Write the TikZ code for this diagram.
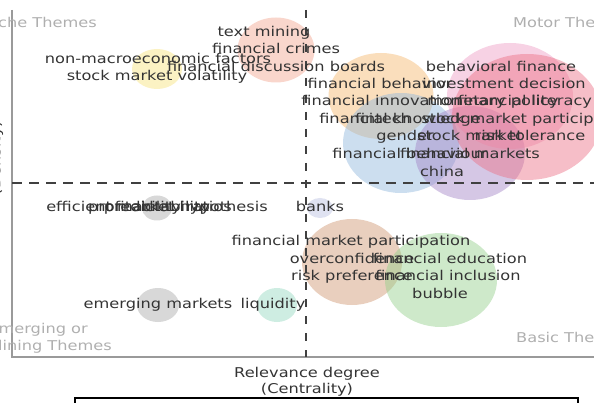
\documentclass[tikz,border=0pt]{standalone}
\usepackage{fontspec}
\setmainfont{DejaVu Sans}[FakeStretch=1.2]
\usetikzlibrary{shapes.geometric}

\definecolor{txt}{HTML}{333333}
\definecolor{quadgray}{HTML}{AFAFAF}
\definecolor{axgray}{HTML}{9A9A9A}
\definecolor{cyellow}{HTML}{F7E27A}
\definecolor{csalmon}{HTML}{F2A48E}
\definecolor{corange}{HTML}{F5B66A}
\definecolor{cblue}{HTML}{8FB6DC}
\definecolor{cpurple}{HTML}{A283C6}
\definecolor{cpink}{HTML}{EE9BC4}
\definecolor{cred}{HTML}{EC6F84}
\definecolor{cgray}{HTML}{A8A8A8}
\definecolor{cbanks}{HTML}{B8BEE0}
\definecolor{cbrown}{HTML}{CF946F}
\definecolor{cgreen}{HTML}{93CF8A}
\definecolor{cteal}{HTML}{93D6BE}

\tikzset{
  bub/.style={ellipse, fill=#1, fill opacity=.45, inner sep=0pt},
  lab/.style={text=txt, font=\fontsize{13.5}{16}\selectfont, inner sep=0pt,
    text height=10pt, text depth=3pt},
  quad/.style={lab, text=quadgray},
  split/.style={draw=black!75, line width=1.6pt}
}

\begin{document}
\begin{tikzpicture}[x=1pt,y=-1pt]
\useasboundingbox (0,0) rectangle (594,403);
\clip (0,0) rectangle (594,403);

% bubbles
\node [bub=cyellow, minimum width=50, minimum height=40] (yel) at (157,69) {};
\node [bub=csalmon, minimum width=77, minimum height=65] (sal) at (276,50) {};
\node [bub=corange, minimum width=105, minimum height=86] (ora) at (381,96) {};
\node [bub=cblue, minimum width=116, minimum height=100] (blu) at (401,143) {};
\node [bub=cpurple, minimum width=110, minimum height=94] (pur) at (470,153) {};
\node [bub=cpink, minimum width=126, minimum height=106] (pnk) at (510,96) {};
\node [bub=cred, minimum width=150, minimum height=126] (red) at (527,117) {};
\node [bub=cgray, minimum width=30, minimum height=25] (emh) at (157,208) {};
\node [bub=cbanks, minimum width=26, minimum height=20] (bnk) at (320,208) {};
\node [bub=cbrown, minimum width=100, minimum height=86] (brn) at (352,262) {};
\node [bub=cgreen, minimum width=112, minimum height=94] (grn) at (441,280) {};
\node [bub=cgray, minimum width=42, minimum height=34] (emg) at (158,305) {};
\node [bub=cteal, minimum width=40, minimum height=34] (liq) at (277,305) {};

% axes and quadrant lines
\coordinate (o) at (12,357);
\coordinate (top) at (12,10);
\coordinate (right) at (600,357);
\draw [axgray, line width=1.5pt] (top) -- (o) -- (right);
\coordinate (vtop) at (306,10);
\coordinate (vbot) at (306,357);
\coordinate (hl) at (12,183);
\coordinate (hr) at (600,183);
\draw [split, dash pattern=on 8pt off 9pt] (vtop) -- (vbot);
\draw [split, dash pattern=on 10pt off 7pt] (hl) -- (hr);

% quadrant names
\node [quad, anchor=east] (niche) at (97,24) {Niche Themes};
\node [quad, anchor=west] (motor) at (513,24) {Motor Themes};
\node [quad, anchor=east] (emer1) at (88,330) {Emerging or};
\node [quad, anchor=east] (emer2) at (112,347) {Declining Themes};
\node [quad, anchor=west] (basic) at (516,339) {Basic Themes};

% labels, niche
\node [lab] (tm) at (264,33) {text mining};
\node [lab] (fc) at (276,50) {financial crimes};
\node [lab] (fdb) at (276,68) {financial discussion boards};
\node [lab] (nmf) at (158,60) {non-macroeconomic factors};
\node [lab] (smv) at (157,77) {stock market volatility};

% labels, motor
\node [lab] (bf) at (501,68) {behavioral finance};
\node [lab] (fb) at (380,85) {financial behavior};
\node [lab] (id) at (504,85) {investment decision};
\node [lab] (fi) at (381,102) {financial innovation};
\node [lab] (mp) at (493,102) {monetary policy};
\node [lab] (fl) at (525,102) {financial literacy};
\node [lab] (fk) at (400,120) {financial knowledge};
\node [lab] (ft) at (383,120) {fintech};
\node [lab] (smp) at (528,120) {stock market participation};
\node [lab] (gd) at (405,137) {gender};
\node [lab] (sm) at (470,137) {stock market};
\node [lab] (rt) at (530,137) {risk tolerance};
\node [lab] (fbr) at (410,155) {financial behaviour};
\node [lab] (fm) at (470,155) {financial markets};
\node [lab] (ch) at (442,173) {china};

% labels, emerging
\node [lab] (emhl) at (157,208) {efficient market hypothesis};
\node [lab] (prd) at (157,208) {predictability};
\node [lab] (prr) at (160,208) {profitability ratios};
\node [lab] (emgl) at (158,305) {emerging markets};
\node [lab] (liql) at (273,305) {liquidity};

% labels, basic
\node [lab] (bnkl) at (320,208) {banks};
\node [lab] (fmp) at (351,242) {financial market participation};
\node [lab] (oc) at (352,260) {overconfidence};
\node [lab] (fe) at (450,260) {financial education};
\node [lab] (rp) at (352,277) {risk preference};
\node [lab] (fin) at (448,277) {financial inclusion};
\node [lab] (bb) at (440,295) {bubble};

% axis titles
\node [lab] (xt1) at (307,374) {Relevance degree};
\node [lab] (xt2) at (307,390) {(Centrality)};
\node [lab, rotate=90] (yt) at (-3,158) {(Density)};

% key box
\draw [black, line width=1.2pt] (75,410) -- (75,398) -- (578,398) -- (578,410);
\end{tikzpicture}
\end{document}
